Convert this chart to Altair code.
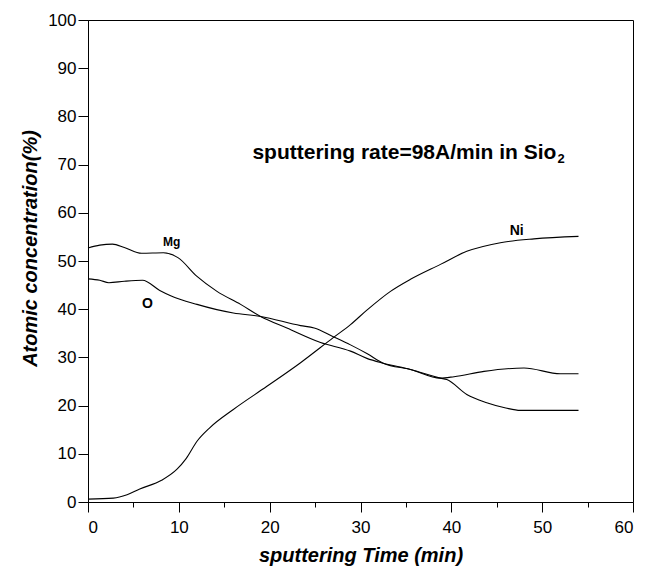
import altair as alt
import pandas as pd

# ---- data ----
mg_x = [0, 1.3, 2.7, 4.0, 5.9, 8.3, 9.9, 12.0, 14.2, 16.8, 19.0, 21.9, 25.6, 28.9, 30.7, 32.5, 35.5, 38.8, 39.5, 41.7, 43.9, 46.0, 47.6, 54.0]
mg_y = [52.7, 53.3, 53.5, 52.8, 51.6, 51.7, 50.7, 46.8, 43.7, 41.0, 38.5, 36.1, 33.1, 31.3, 29.8, 28.8, 27.5, 25.7, 25.4, 22.3, 20.6, 19.5, 19.0, 19.0]

o_x = [0, 1.3, 2.3, 4.0, 6.0, 7.9, 9.1, 12.0, 16.0, 19.0, 23.4, 24.9, 27.0, 28.9, 30.7, 32.5, 35.5, 38.8, 40.3, 43.6, 48.0, 52.0, 54.0]
o_y = [46.3, 46.0, 45.5, 45.8, 46.0, 43.9, 42.8, 41.0, 39.2, 38.5, 36.6, 36.1, 34.3, 32.6, 30.8, 28.8, 27.5, 25.7, 26.0, 27.1, 27.8, 26.6, 26.6]

ni_x = [0, 2.8, 4.3, 5.7, 8.1, 9.8, 10.8, 12.0, 13.4, 16.0, 19.7, 23.4, 27.0, 28.9, 30.7, 33.3, 35.5, 38.8, 41.7, 45.4, 49.1, 54.0]
ni_y = [0.6, 0.8, 1.5, 2.7, 4.5, 6.8, 9.0, 12.6, 15.4, 19.2, 24.0, 28.9, 34.1, 36.8, 39.8, 43.7, 46.2, 49.3, 52.0, 53.8, 54.6, 55.1]

label_text = ["Mg", "O", "Ni"]
label_x = [9.2, 6.55, 47.2]
label_y = [53.9, 41.0, 56.3]
label_size = [12, 14, 14]

note_text = ["sputtering rate=98A/min in Sio"]
note_x = [18.1]
note_y = [71.1]
sub_text = ["2"]
sub_x = [51.7]
sub_y = [70.4]

x_ticks = list(range(0, 61, 5))
y_ticks = list(range(0, 101, 5))

FONT = "Liberation Sans"

rows = []
for name, xs, ys in (("Mg", mg_x, mg_y), ("O", o_x, o_y), ("Ni", ni_x, ni_y)):
    for i, (a, b) in enumerate(zip(xs, ys)):
        rows.append({"series": name, "t": a, "c": b, "i": i})
df = pd.DataFrame(rows)

labels = pd.DataFrame({"text": label_text, "t": label_x, "c": label_y, "size": label_size})
note = pd.DataFrame({"text": note_text, "t": note_x, "c": note_y})
sub = pd.DataFrame({"text": sub_text, "t": sub_x, "c": sub_y})

xscale = alt.Scale(domain=[0, 60], nice=False, zero=False)
yscale = alt.Scale(domain=[0, 100], nice=False, zero=False)

major10 = "datum.value % 10 === 0"

xaxis = alt.Axis(
    title="sputtering Time (min)",
    values=x_ticks,
    labelExpr="datum.value % 10 === 0 ? datum.label : ''",
    tickSize={"condition": {"test": major10, "value": 10}, "value": 5},
    grid=False,
    labelPadding=7,
    titleFontSize=20,
    titleFontWeight="bold",
    titleFontStyle="italic",
    titleY=59,
    titleBaseline="alphabetic",
)
yaxis = alt.Axis(
    title="Atomic concentration(%)",
    values=y_ticks,
    labelExpr="datum.value % 10 === 0 ? datum.label : ''",
    tickSize={"condition": {"test": major10, "value": 10}, "value": 5},
    grid=False,
    labelPadding=2,
    titleFontSize=20,
    titleFontWeight="bold",
    titleFontStyle="italic",
    titleX=-58,
    titleY=228,
    titleAlign="center",
    titleBaseline="middle",
    titleAngle=270,
)

lines = alt.Chart(df).mark_line(color="black", strokeWidth=1.1, interpolate="monotone").encode(
    x=alt.X("t:Q", scale=xscale, axis=xaxis),
    y=alt.Y("c:Q", scale=yscale, axis=yaxis),
    detail="series:N",
    order="i:Q",
)

lbl = alt.Chart(labels).mark_text(font=FONT, fontWeight="bold", color="black", align="center", baseline="middle").encode(
    x=alt.X("t:Q", scale=xscale),
    y=alt.Y("c:Q", scale=yscale),
    text="text:N",
    size=alt.Size("size:Q", scale=None, legend=None),
)

nt = alt.Chart(note).mark_text(font=FONT, fontWeight="bold", fontSize=21, color="black", align="left", baseline="alphabetic").encode(
    x=alt.X("t:Q", scale=xscale),
    y=alt.Y("c:Q", scale=yscale),
    text="text:N",
)

st = alt.Chart(sub).mark_text(font=FONT, fontWeight="bold", fontSize=13, color="black", align="left", baseline="alphabetic").encode(
    x=alt.X("t:Q", scale=xscale),
    y=alt.Y("c:Q", scale=yscale),
    text="text:N",
)

chart = alt.layer(lines, lbl, nt, st).properties(
    width=545,
    height=482,
    autosize=alt.AutoSizeParams(type="none"),
    padding={"left": 80, "top": 12, "right": 14, "bottom": 64},
).configure_view(
    stroke="black", strokeWidth=1
).configure_axis(
    domainColor="black",
    domainWidth=1,
    tickColor="black",
    tickWidth=1,
    labelFont=FONT,
    labelFontSize=17,
    labelColor="black",
    titleFont=FONT,
    titleColor="black",
)

chart.save("out.html", embed_options={"renderer": "svg", "actions": False})
